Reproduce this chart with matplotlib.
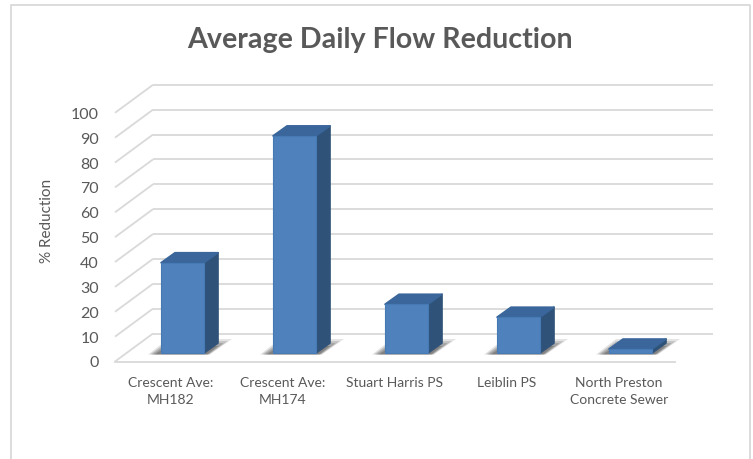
'''Average daily flow reduction, column chart drawn with a fake 3D look.'''

# ----------------------------------------------------------------------------
# Modules
from matplotlib import pyplot as plt
from matplotlib.patches import Polygon, Rectangle

# ----------------------------------------------------------------------------
# Data
categories = ['Crescent Ave:\nMH182', 'Crescent Ave:\nMH174', 'Stuart Harris PS',
              'Leiblin PS', 'North Preston\nConcrete Sewer']
reduction = [36.3, 87.3, 19.6, 14.4, 1.6]
y_ticks = [0, 10, 20, 30, 40, 50, 60, 70, 80, 90, 100]

# ----------------------------------------------------------------------------
plt.rcParams['font.family'] = ['Lato', 'DejaVu Sans']

W, H = 753, 459
fig = plt.figure(figsize=(W / 100, H / 100), dpi=100)

# Axes cover the front plane plus the depth of the floor
ax = fig.add_axes([115 / W, 1 - 361.5 / H, 598 / W, 277.5 / H])
px_x = 112.0
px_y = 2.487
ax.set_xlim(0, 598 / px_x)
ax.set_ylim(0, 277.5 / px_y)
ax.axis('off')

# Depth of the floor and of a column in data units
depth_x = 38 / px_x
depth_y = 28 / px_y
bar_dx = 14 / px_x
bar_dy = 10 / px_y
# Where the columns stand between the front and the back of the floor
shift_x = 11.5 / px_x
shift_y = 8.5 / px_y
bar_width = 43 / px_x

grid_color = '#d9d9d9'
text_color = '#595959'

# Walls and floor lines
for tick in y_ticks:
    ax.plot([0, depth_x], [tick, tick + depth_y], color=grid_color, lw=1.3,
            clip_on=False, solid_capstyle='butt')
    ax.plot([depth_x, 5 + depth_x], [tick + depth_y, tick + depth_y],
            color=grid_color, lw=1.3, clip_on=False, solid_capstyle='butt')
ax.plot([0, 5], [0, 0], color=grid_color, lw=1.3, clip_on=False)

for idx, val in enumerate(reduction):
    left = idx + 0.5 - bar_width / 2 + shift_x
    right = left + bar_width
    base = shift_y
    top = base + val

    # Soft shadow on the floor, stacked for a gradient
    for grow, alpha in zip((1.0, 0.85, 0.7, 0.5), (0.14, 0.2, 0.26, 0.32)):
        ax.add_patch(Polygon(
            [(left - grow * 13 / px_x, base - 0.6),
             (right + grow * 6 / px_x, base - 0.6),
             (right + grow * 28 / px_x, base + grow * 14 / px_y),
             (left + 7 / px_x, base + grow * 14 / px_y)],
            closed=True, fc='#404040', ec='none', alpha=alpha, zorder=3))

    # Column faces
    ax.add_patch(Polygon(
        [(right, base), (right + bar_dx, base + bar_dy),
         (right + bar_dx, top + bar_dy), (right, top)],
        closed=True, fc='#2f5279', ec='#2f5279', lw=1.2, joinstyle='round',
        zorder=4))
    ax.add_patch(Polygon(
        [(left, top), (right, top), (right + bar_dx, top + bar_dy),
         (left + bar_dx, top + bar_dy)],
        closed=True, fc='#3a669b', ec='#3a669b', lw=1.2, joinstyle='round',
        zorder=4))
    ax.add_patch(Rectangle((left, base), bar_width, val, fc='#4f81bd',
                           ec='#457ab4', lw=0.8, zorder=5))

    ax.text(idx + 0.5, -6.2, categories[idx], ha='center', va='top',
            fontsize=10, color=text_color, linespacing=1.5)

for tick in y_ticks:
    ax.text(-16 / px_x, tick - 0.2, str(tick), ha='right', va='center_baseline',
            fontsize=11.5, color=text_color)

fig.text(47 / W, 1 - 221 / H, '% Reduction', rotation=90, ha='center',
         va='center', fontsize=11, color=text_color)
fig.text(380 / W, 1 - 40 / H, 'Average Daily Flow Reduction', ha='center',
         va='center', fontsize=20.6, fontweight='bold', color=text_color)

# Chart area frame
fig.add_artist(plt.Line2D([10.5 / W, 10.5 / W, 750 / W, 750 / W],
                          [0, 1 - 4.5 / H, 1 - 4.5 / H, 0],
                          color='#d9d9d9', lw=1.3))

fig.savefig('out.png', dpi=100)
